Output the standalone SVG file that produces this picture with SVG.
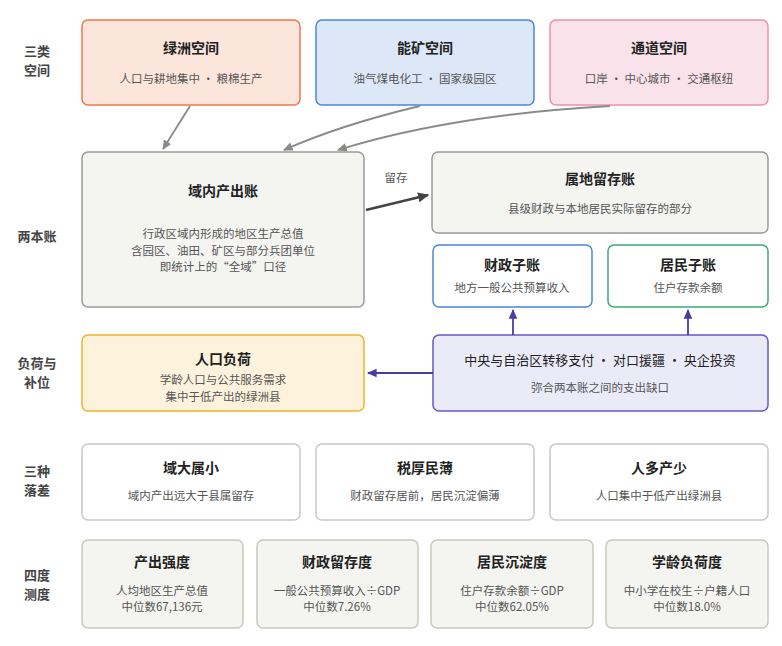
<svg xmlns="http://www.w3.org/2000/svg" width="782" height="646" viewBox="0 0 782 646">
<style>
text{font-family:"Noto Sans CJK SC","Noto Sans",sans-serif;text-anchor:middle}
.t{font-size:14px;font-weight:bold;fill:#222}
.s{font-size:11.5px;fill:#555}
.l{font-size:13px;font-weight:bold;fill:#444}
.g{fill:#f4f4f1;stroke:#9a9a96;stroke-width:1.5}
.w{fill:#fff;stroke:#c8c8c4;stroke-width:1.5}
.c{fill:none;stroke:#8a8a86;stroke-width:1.8}
</style>
<defs>
<marker id="ag" viewBox="0 0 10 10" refX="8" refY="5" markerWidth="6" markerHeight="6" orient="auto"><path d="M0,1L9,5L0,9z" fill="#8a8a86"/></marker>
<marker id="ad" viewBox="0 0 10 10" refX="8" refY="5" markerWidth="5" markerHeight="5" orient="auto"><path d="M0,1L9,5L0,9z" fill="#444"/></marker>
<marker id="ap" viewBox="0 0 10 10" refX="8" refY="5" markerWidth="6" markerHeight="6" orient="auto"><path d="M0,1L9,5L0,9z" fill="#4b3aa6"/></marker>
</defs>
<g id="labels">
<text class="l" x="37" y="56">三类</text><text class="l" x="37" y="75">空间</text>
<text class="l" x="37" y="241">两本账</text>
<text class="l" x="37" y="368">负荷与</text><text class="l" x="37" y="387">补位</text>
<text class="l" x="37" y="476">三种</text><text class="l" x="37" y="495">落差</text>
<text class="l" x="37" y="580">四度</text><text class="l" x="37" y="599">测度</text>
</g>
<g id="oasis"><rect x="82" y="20" width="218" height="85" rx="6" fill="#fce6dc" stroke="#ee7a45" stroke-width="1.5"/><text class="t" x="191" y="53">绿洲空间</text><text class="s" x="191" y="83">人口与耕地集中 · 粮棉生产</text></g>
<g id="energy"><rect x="316" y="20" width="218" height="85" rx="6" fill="#dce8f8" stroke="#4a86dc" stroke-width="1.5"/><text class="t" x="425" y="53">能矿空间</text><text class="s" x="425" y="83">油气煤电化工 · 国家级园区</text></g>
<g id="corridor"><rect x="550" y="20" width="218" height="85" rx="6" fill="#f9e2ea" stroke="#e893b0" stroke-width="1.5"/><text class="t" x="659" y="53">通道空间</text><text class="s" x="659" y="83">口岸 · 中心城市 · 交通枢纽</text></g>
<g id="output"><rect class="g" x="82" y="152" width="282" height="155" rx="6"/><text class="t" x="223" y="196">域内产出账</text><text class="s" x="223" y="238">行政区域内形成的地区生产总值</text><text class="s" x="223" y="255">含园区、油田、矿区与部分兵团单位</text><text class="s" x="223" y="271">即统计上的“全域”口径</text></g>
<g id="retain"><rect class="g" x="432" y="152" width="336" height="81" rx="6"/><text class="t" x="600" y="184">属地留存账</text><text class="s" x="600" y="213">县级财政与本地居民实际留存的部分</text></g>
<g id="fiscal"><rect x="433" y="245" width="159" height="62" rx="6" fill="#fff" stroke="#4a86dc" stroke-width="1.5"/><text class="t" x="512" y="270">财政子账</text><text class="s" x="512" y="292">地方一般公共预算收入</text></g>
<g id="resident"><rect x="608" y="245" width="160" height="62" rx="6" fill="#fff" stroke="#3aaa78" stroke-width="1.5"/><text class="t" x="688" y="270">居民子账</text><text class="s" x="688" y="292">住户存款余额</text></g>
<g id="load"><rect x="82" y="335" width="282" height="76" rx="6" fill="#fdf3dc" stroke="#f0b429" stroke-width="1.5"/><text class="t" x="223" y="364">人口负荷</text><text class="s" x="223" y="384">学龄人口与公共服务需求</text><text class="s" x="223" y="401">集中于低产出的绿洲县</text></g>
<g id="transfer"><rect x="433" y="335" width="335" height="76" rx="6" fill="#ebebf8" stroke="#6a56c8" stroke-width="1.5"/><text x="600" y="365" style="font-size:13px;fill:#222">中央与自治区转移支付 · 对口援疆 · 央企投资</text><text class="s" x="600" y="392">弥合两本账之间的支出缺口</text></g>
<g id="gap1"><rect class="w" x="82" y="444" width="218" height="76" rx="6"/><text class="t" x="191" y="473">域大属小</text><text class="s" x="191" y="500">域内产出远大于县属留存</text></g>
<g id="gap2"><rect class="w" x="316" y="444" width="218" height="76" rx="6"/><text class="t" x="425" y="473">税厚民薄</text><text class="s" x="425" y="500">财政留存居前，居民沉淀偏薄</text></g>
<g id="gap3"><rect class="w" x="550" y="444" width="218" height="76" rx="6"/><text class="t" x="659" y="473">人多产少</text><text class="s" x="659" y="500">人口集中于低产出绿洲县</text></g>
<g id="m1"><rect class="g" x="82" y="540" width="161" height="88" rx="6" style="stroke:#c8c8c4"/><text class="t" x="162" y="567">产出强度</text><text class="s" x="162" y="595">人均地区生产总值</text><text class="s" x="162" y="611">中位数67,136元</text></g>
<g id="m2"><rect class="g" x="257" y="540" width="161" height="88" rx="6" style="stroke:#c8c8c4"/><text class="t" x="337" y="567">财政留存度</text><text class="s" x="337" y="595">一般公共预算收入÷GDP</text><text class="s" x="337" y="611">中位数7.26%</text></g>
<g id="m3"><rect class="g" x="431" y="540" width="162" height="88" rx="6" style="stroke:#c8c8c4"/><text class="t" x="512" y="567">居民沉淀度</text><text class="s" x="512" y="595">住户存款余额÷GDP</text><text class="s" x="512" y="611">中位数62.05%</text></g>
<g id="m4"><rect class="g" x="606" y="540" width="162" height="88" rx="6" style="stroke:#c8c8c4"/><text class="t" x="687" y="567">学龄负荷度</text><text class="s" x="687" y="595">中小学在校生÷户籍人口</text><text class="s" x="687" y="611">中位数18.0%</text></g>
<g id="connectors">
<path class="c" d="M190,106L163,149" marker-end="url(#ag)"/>
<path class="c" d="M420,106Q340,125 284,150" marker-end="url(#ag)"/>
<path class="c" d="M610,106Q450,115 338,150" marker-end="url(#ag)"/>
<path d="M366,210L428,195" stroke="#444" stroke-width="2.5" fill="none" marker-end="url(#ad)"/>
<text x="396" y="182" style="font-size:11.5px;fill:#555">留存</text>
<path d="M513,335V310" stroke="#4b3aa6" stroke-width="1.8" fill="none" marker-end="url(#ap)"/>
<path d="M688,335V310" stroke="#4b3aa6" stroke-width="1.8" fill="none" marker-end="url(#ap)"/>
<path d="M433,373H368" stroke="#4b3aa6" stroke-width="1.8" fill="none" marker-end="url(#ap)"/>
</g>
</svg>
